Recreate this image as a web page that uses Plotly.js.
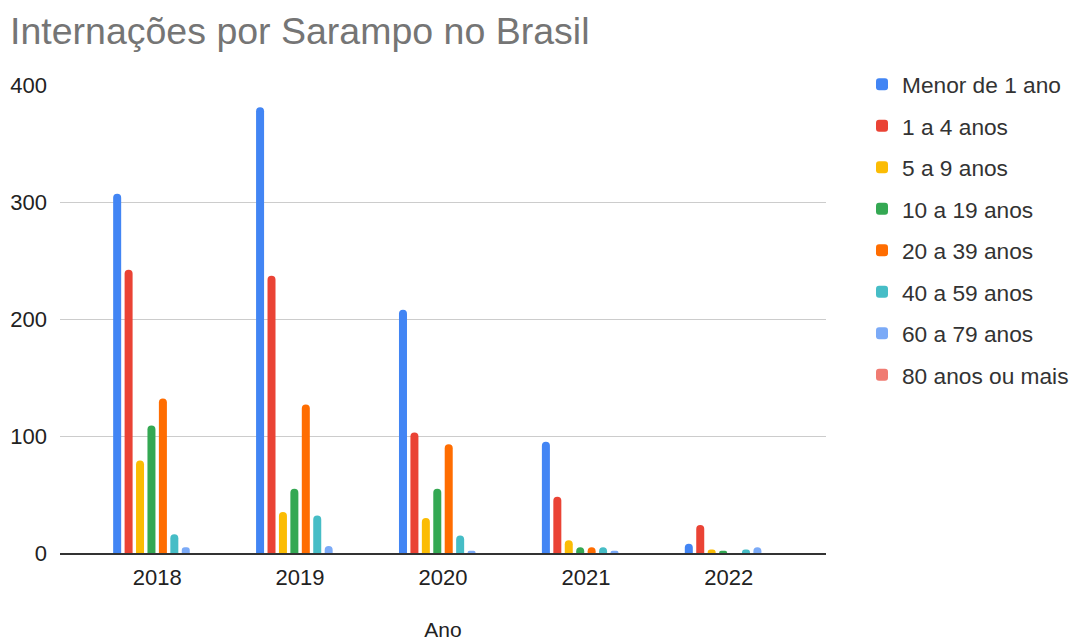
<!DOCTYPE html>
<html>
<head>
<meta charset="utf-8">
<script src="https://cdn.plot.ly/plotly-3.0.1.min.js"></script>
<style>html,body{margin:0;padding:0;background:#fff}#chart{width:1072px;height:641px}</style>
</head>
<body>
<div id="chart"></div>
<script>
const years = ['2018', '2019', '2020', '2021', '2022'];
const seriesNames = ['Menor de 1 ano', '1 a 4 anos', '5 a 9 anos', '10 a 19 anos', '20 a 39 anos', '40 a 59 anos', '60 a 79 anos', '80 anos ou mais'];
const menor1 = [307, 381, 208, 95, 8];
const a1a4 = [242, 237, 103, 48, 24];
const a5a9 = [79, 35, 30, 11, 3];
const a10a19 = [109, 55, 55, 5, 2];
const a20a39 = [132, 127, 93, 5, 0];
const a40a59 = [16, 32, 15, 5, 3];
const a60a79 = [5, 6, 2, 2, 5];
const a80mais = [0, 0, 0, 0, 0];
const colors = ['#4285F4', '#EA4335', '#FBBC04', '#34A853', '#FF6D01', '#46BDC6', '#7BAAF7', '#F07B72'];

const seriesValues = [menor1, a1a4, a5a9, a10a19, a20a39, a40a59, a60a79, a80mais];
const FONT = 'Arial, "Liberation Sans", sans-serif';

const traces = seriesValues.map((vals, i) => ({
  type: 'bar',
  name: seriesNames[i],
  x: years,
  y: vals,
  legendgroup: 'g' + i,
  marker: {color: colors[i], cornerradius: 4, line: {width: 0}},
  hoverinfo: 'x+y+name'
}));

const layout = {
  width: 1072,
  height: 641,
  paper_bgcolor: '#fff',
  plot_bgcolor: '#fff',
  font: {family: FONT, color: '#222'},
  margin: {l: 60, r: 246, t: 85, b: 88, pad: 0},
  barmode: 'group',
  bargap: 0.36,
  bargroupgap: 0.3,
  title: {
    text: 'Internações por Sarampo no Brasil',
    font: {family: FONT, size: 37.5, color: '#757575'},
    x: 10 / 1072, xref: 'container', xanchor: 'left',
    y: 1 - 31 / 641, yref: 'container', yanchor: 'middle'
  },
  xaxis: {
    type: 'category',
    range: [-0.68, 4.68],
    showgrid: false,
    showline: true,
    linecolor: '#333',
    linewidth: 2,
    ticks: '',
    ticklabelstandoff: 4,
    tickfont: {family: FONT, size: 22, color: '#222'},
    title: {text: 'Ano', font: {family: FONT, size: 21, color: '#222'}, standoff: 34},
    zeroline: false,
    fixedrange: true
  },
  yaxis: {
    range: [0, 400],
    tickvals: [0, 100, 200, 300, 400],
    ticktext: ['0', '100', '200', '300', '400'],
    showgrid: true,
    gridcolor: '#cccccc',
    gridwidth: 1,
    zeroline: false,
    showline: false,
    ticks: '',
    ticklabelstandoff: 12,
    tickfont: {family: FONT, size: 22, color: '#222'},
    fixedrange: true
  },
  showlegend: true,
  legend: {
    xref: 'container', yref: 'container',
    x: 862 / 1072, xanchor: 'left',
    y: 1 - 63 / 641, yanchor: 'top',
    maxheight: 560,
    font: {family: FONT, size: 22.7, color: '#333'},
    traceorder: 'grouped',
    tracegroupgap: 9,
    itemclick: false,
    bgcolor: 'rgba(0,0,0,0)'
  }
};

Plotly.newPlot('chart', traces, layout, {displayModeBar: false, staticPlot: true});
</script>
</body>
</html>
